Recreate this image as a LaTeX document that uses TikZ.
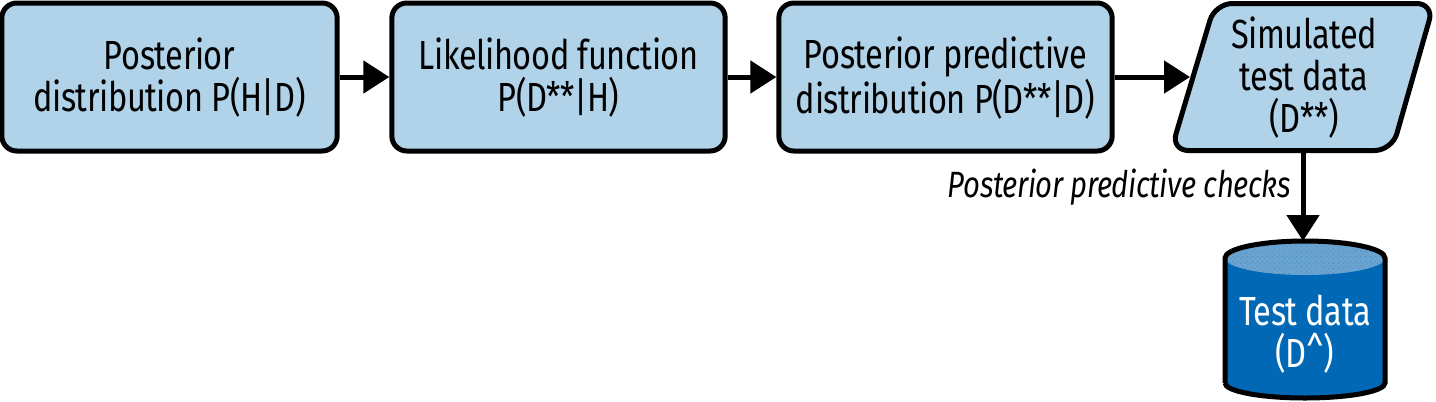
\documentclass[tikz,border=0pt]{standalone}
\usepackage{fontspec}
\setmainfont[FakeStretch=0.80,LetterSpace=-1.0,ItalicFont={Fira Sans Italic}]{Fira Sans}
\usetikzlibrary{arrows.meta,patterns.meta}
\definecolor{boxblue}{HTML}{B0D3EA}
\definecolor{dbblue}{HTML}{0068B5}
\definecolor{dbtop}{HTML}{6BA3D0}
\tikzset{
  px/.style={x=0.75pt,y=-0.75pt},
  flowbox/.style={draw=black,fill=boxblue,line width=3.75pt,rounded corners=15pt*0.75,minimum width=251pt,minimum height=111pt,inner sep=0pt,align=center},
  boxtext/.style={font=\fontsize{30.5pt}{31.5pt}\selectfont,align=center,text=black,inner sep=0pt},
  flowarrow/.style={line width=3.75pt,-{Triangle[length=19.5pt,width=24pt]},shorten >=0pt}
}
\begin{document}
\begin{tikzpicture}[px]
\useasboundingbox (0,0) rectangle (1436,401);
\node[flowbox,minimum width=251.5pt] (post) at (169.5,77) {};
\node[flowbox,minimum width=250pt] (lik) at (558.5,77) {};
\node[flowbox,minimum width=250pt] (pred) at (945.5,77) {};
\node[boxtext] (postt) at (169.5,78) {Posterior\\distribution P(H|D)};
\node[boxtext] (likt) at (558.5,78) {Likelihood function\\P(D**|H)};
\node[boxtext] (predt) at (945.5,78) {Posterior predictive\\distribution P(D**|D)};
% parallelogram
\draw[line width=3.75pt,fill=boxblue,rounded corners=13pt] (1215,3.5) -- (1434,3.5) -- (1392,150.5) -- (1171,150.5) -- cycle;
\node[boxtext] (sim) at (1304,78) {Simulated\\test data\\(D**)};
\coordinate (simL) at (1190,77);
\coordinate (simB) at (1303,150);
% cylinder
\path[fill=dbblue] (1225,258) arc[start angle=180,end angle=360,x radius=80,y radius=17] -- (1385,383) arc[start angle=0,end angle=180,x radius=80,y radius=15] -- cycle;
\fill[dbtop] (1305,258) ellipse[x radius=80,y radius=17];
\fill[pattern={Dots[radius=0.28pt,distance=2.6pt,angle=45]},pattern color=dbblue] (1305,258) ellipse[x radius=80,y radius=17];
\draw[line width=3.75pt] (1225,383) -- (1225,258) arc[start angle=180,end angle=360,x radius=80,y radius=17] -- (1385,383) arc[start angle=0,end angle=180,x radius=80,y radius=15];
\node[boxtext,text=white] (test) at (1305,334) {Test data\\(D\^{})};
\coordinate (testT) at (1303,241);
% connectors
\draw[flowarrow] (post.east) -- (lik.west);
\draw[flowarrow] (lik.east) -- (pred.west);
\draw[flowarrow] (pred.east) -- (simL);
\draw[flowarrow] (simB) -- (testT);
\node[font={\fontsize{27.4pt}{28pt}\selectfont\itshape},inner sep=0pt,anchor=east] (chk) at (1291,187) {Posterior predictive checks};
\end{tikzpicture}
\end{document}
